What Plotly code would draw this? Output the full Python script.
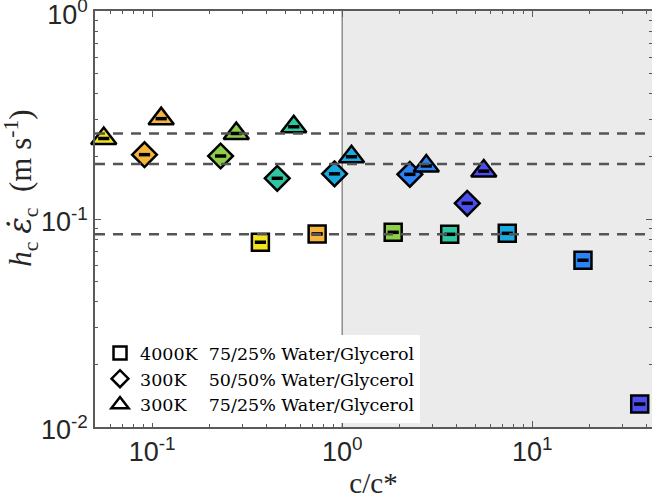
import numpy as np
import plotly.graph_objects as go

# ---------------- data ----------------
palette = ["#f2e41e", "#f5b43c", "#8ccd4a", "#2fc6a2", "#1aaae0", "#2b83f7", "#4b4ff2"]

sq_x = [0.371, 0.738, 1.855, 3.68, 7.39, 18.5, 36.8]
sq_y = [0.0773, 0.0848, 0.0863, 0.0844, 0.0853, 0.0633, 0.01286]
sq_c = [0, 1, 2, 3, 4, 5, 6]

di_x = [0.0911, 0.229, 0.455, 0.911, 2.27, 4.55]
di_y = [0.204, 0.201, 0.157, 0.165, 0.164, 0.119]
di_c = [1, 2, 3, 4, 5, 6]

tr_x = [0.0556, 0.1115, 0.277, 0.556, 1.119, 2.77, 5.56]
tr_y = [0.244, 0.304, 0.258, 0.278, 0.1993, 0.180, 0.170]
tr_c = [0, 1, 2, 3, 4, 5, 6]

ref_levels = [0.258, 0.184, 0.0844]

legend_labels = [
    "4000K&nbsp;&nbsp;75/25% Water/Glycerol",
    "300K&nbsp;&nbsp;&nbsp;&nbsp;50/50% Water/Glycerol",
    "300K&nbsp;&nbsp;&nbsp;&nbsp;75/25% Water/Glycerol",
]

x_tickvals = [0.1, 1, 10]
x_ticktext = ["10<sup>-1</sup>", "10<sup>0</sup>", "10<sup>1</sup>"]
y_tickvals = [0.01, 0.1, 1]
y_ticktext = ["10<sup>-2</sup>", "10<sup>-1</sup>", "10<sup>0</sup>"]

x_title = "c/c*"
y_title = ("<i>h</i><sub>c</sub>&nbsp;<span style='font-family:DejaVu Serif'><i>ε̇</i></span>"
           "<sub>c</sub>&nbsp;&nbsp;(m&nbsp;s<sup>-1</sup>)")

XMIN, XMAX = 0.05, 42.7
YMIN, YMAX = 0.01, 1.0
C_STAR = 1.0

# ---------------- figure ----------------
fig = go.Figure()

series = [
    (sq_x, sq_y, sq_c, "square", 17),
    (di_x, di_y, di_c, "diamond", 19),
    (tr_x, tr_y, tr_c, "triangle-up", 22),
]

for xs, ys, cs, sym, size in series:
    fig.add_trace(go.Scatter(
        x=xs, y=ys, mode="markers", showlegend=False, cliponaxis=False,
        marker=dict(symbol=sym, size=size, color=[palette[c] for c in cs],
                    line=dict(color="black", width=2.5)),
    ))
    # tiny error bars (drawn as short black dashes)
    fig.add_trace(go.Scatter(
        x=xs, y=ys, mode="markers", showlegend=False, cliponaxis=False,
        marker=dict(symbol="line-ew", size=8, color="black",
                    line=dict(color="black", width=3.5)),
    ))

# legend entries
for (sym, size), lab in zip([("square", 13), ("diamond", 13), ("triangle-up", 15)], legend_labels):
    fig.add_trace(go.Scatter(
        x=[None], y=[None], mode="markers", name=lab,
        marker=dict(symbol=sym, size=size, color="white",
                    line=dict(color="black", width=2.5)),
    ))

shapes = [
    dict(type="rect", xref="x", yref="paper", x0=C_STAR, x1=XMAX * 2, y0=0, y1=1,
         fillcolor="#ebebeb", line=dict(width=0), layer="below"),
    dict(type="line", xref="x", yref="paper", x0=C_STAR, x1=C_STAR, y0=0, y1=1,
         line=dict(color="#8c8c8c", width=1.5), layer="below"),
]
for lv in ref_levels:
    shapes.append(dict(type="line", xref="paper", yref="y", x0=0, x1=1, y0=lv, y1=lv,
                       line=dict(color="#555555", width=2.5, dash="10px,8px"), layer="above"))

axis_common = dict(
    type="log", showgrid=False, zeroline=False, showline=True, mirror="ticks",
    automargin=False, ticklabeloverflow="allow",
    linecolor="#5a5a5a", linewidth=1.5, ticks="inside", ticklen=6, tickwidth=1.2,
    tickcolor="#5a5a5a",
    tickfont=dict(family="Liberation Sans, Arial, sans-serif", size=27, color="#262626"),
    minor=dict(ticks="inside", ticklen=3.5, tickwidth=1.2, tickcolor="#5a5a5a", dtick="D1", showgrid=False),
)

serif = "Liberation Serif, serif"
fig.update_layout(
    width=652, height=500,
    margin=dict(l=95, r=0, t=11, b=73),
    paper_bgcolor="white", plot_bgcolor="white",
    shapes=shapes,
    xaxis=dict(**axis_common, range=[np.log10(XMIN), np.log10(XMAX)],
               tickvals=x_tickvals, ticktext=x_ticktext,
               title=dict(text=x_title, font=dict(family=serif, size=29, color="#262626"),
                          standoff=2)),
    yaxis=dict(**axis_common, range=[np.log10(YMIN) - 0.001, np.log10(YMAX) + 0.001],
               tickvals=y_tickvals, ticktext=y_ticktext, ticklabelshift=3),
    annotations=[dict(text=y_title, textangle=-90, showarrow=False,
                      xref="paper", yref="paper", x=-0.133, y=0.575,
                      xanchor="center", yanchor="middle",
                      font=dict(family=serif, size=31, color="#262626"))],
    legend=dict(x=0.009, y=0.221, xanchor="left", yanchor="top", bgcolor="white",
                borderwidth=0, tracegroupgap=0,
                font=dict(family="DejaVu Serif, serif", size=17.5, color="black")),
)

fig.write_html("out.html", config={"displayModeBar": False},
               post_script="document.body.style.margin='0';")
